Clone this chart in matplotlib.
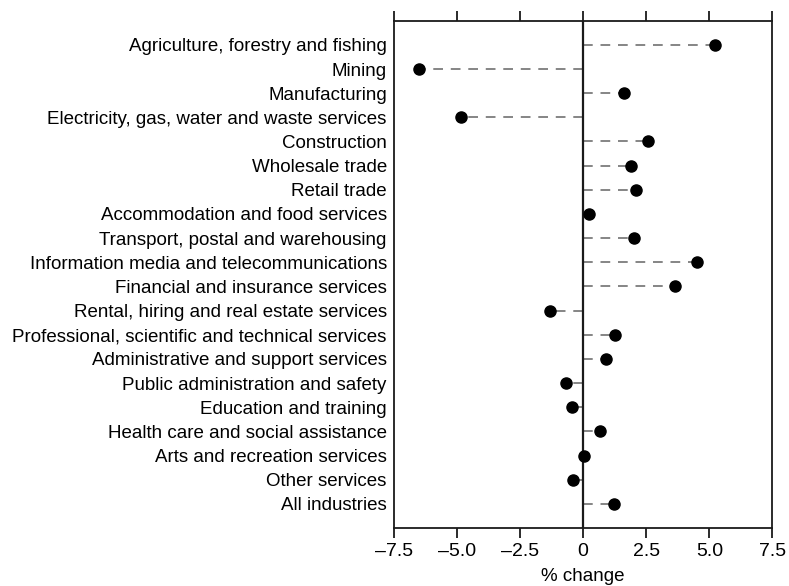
import numpy as np
import matplotlib.pyplot as plt

# industries, top to bottom, and their % change
industries = [
    "Agriculture, forestry and fishing",
    "Mining",
    "Manufacturing",
    "Electricity, gas, water and waste services",
    "Construction",
    "Wholesale trade",
    "Retail trade",
    "Accommodation and food services",
    "Transport, postal and warehousing",
    "Information media and telecommunications",
    "Financial and insurance services",
    "Rental, hiring and real estate services",
    "Professional, scientific and technical services",
    "Administrative and support services",
    "Public administration and safety",
    "Education and training",
    "Health care and social assistance",
    "Arts and recreation services",
    "Other services",
    "All industries",
]
change = [5.24, -6.50, 1.61, -4.84, 2.59, 1.91, 2.11, 0.25, 2.01, 4.53,
          3.66, -1.30, 1.25, 0.89, -0.69, -0.43, 0.66, 0.04, -0.38, 1.22]

xticks = [-7.5, -5.0, -2.5, 0, 2.5, 5.0, 7.5]
xtick_labels = ["\u20137.5", "\u20135.0", "\u20132.5", "0", "2.5", "5.0", "7.5"]

plt.rcParams['font.family'] = ['Liberation Sans', 'DejaVu Sans']

fig = plt.figure(figsize=(7.89, 5.86), dpi=100)
ax = fig.add_axes([0.499, 0.099, 0.48, 0.8657])

y = np.arange(len(industries))

# dashed leaders from zero to each point
for yi, v in zip(y, change):
    ax.plot([0, v], [yi, yi], color="#858585", lw=1.4,
            dashes=(5, 4), zorder=1)

ax.axvline(0, color="#1a1a1a", lw=1.6, zorder=2)
ax.scatter(change, y, s=64, color="black", zorder=3)

ax.set_xlim(-7.5, 7.5)
ax.set_ylim(20, -1)
ax.set_yticks(y)
ax.set_yticklabels(industries, fontsize=13.5)
ax.tick_params(axis="y", length=0, pad=5)

ax.set_xticks(xticks)
ax.set_xticklabels(xtick_labels, fontsize=14)
ax.tick_params(axis="x", direction="out", length=7, width=1.3,
               top=True, bottom=True, colors="#1a1a1a", labelcolor="black")
ax.set_xlabel("% change", fontsize=13.5, labelpad=6)

for s in ax.spines.values():
    s.set_linewidth(1.3)
    s.set_color("#1a1a1a")

fig.savefig("out.png", dpi=100)
